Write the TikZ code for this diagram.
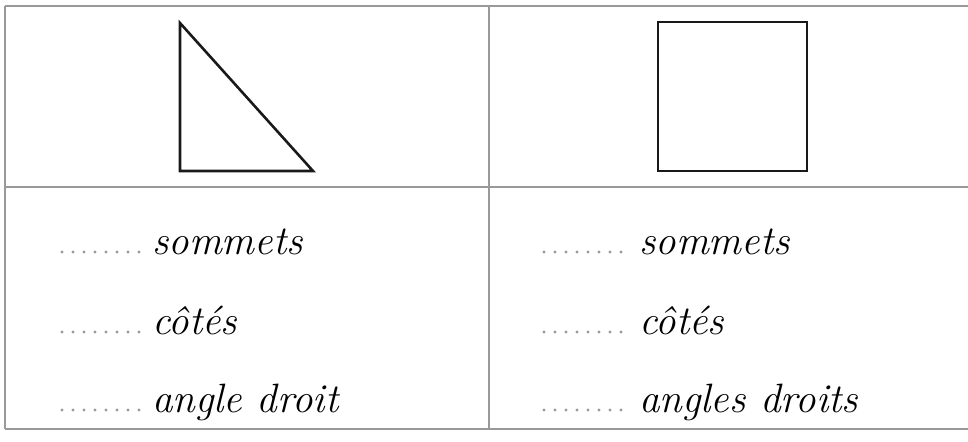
\documentclass[tikz,border=0pt]{standalone}
\usepackage{fontspec}

\tikzset{
    grille/.style={draw=black!40, line width=1.2pt},
    figure/.style={draw=black!90, line width=2.2pt, line join=miter},
    mot/.style={anchor=base west, inner sep=0pt, font=\fontsize{35}{42}\selectfont\itshape},
}

\begin{document}
\begin{tikzpicture}[x=0.03cm, y=-0.03cm]
        \useasboundingbox (0, 0) rectangle (968, 441);

        % tableau
        \draw[grille] (5, 6) -- (968, 6);
        \draw[grille] (5, 187) -- (968, 187);
        \draw[grille] (5, 429) -- (968, 429);
        \draw[grille] (5, 6) -- (5, 429);
        \draw[grille] (489, 6) -- (489, 429);

        % figures
        \draw[figure] (180, 23) -- (180, 171) -- (313, 171) -- cycle;
        \draw[figure] (658, 22) rectangle (807, 171);

        % pointilles
        \foreach \y in {252, 332, 410} {
            \foreach \x in {62, 73, ..., 139} {
                \fill[black!40] (\x, \y) circle (1.6);
                \fill[black!40] (\x + 482, \y) circle (1.6);
            }
        }

        \node[mot] (sommetsA) at (152, 254) {sommets};
        \node[mot] (cotesA) at (152, 334) {côtés};
        \node[mot] (angleA) at (152, 412) {angle droit};
        \node[mot] (sommetsB) at (639, 254) {sommets};
        \node[mot] (cotesB) at (639, 334) {côtés};
        \node[mot] (angleB) at (639, 412) {angles droits};

    \end{tikzpicture}
\end{document}
